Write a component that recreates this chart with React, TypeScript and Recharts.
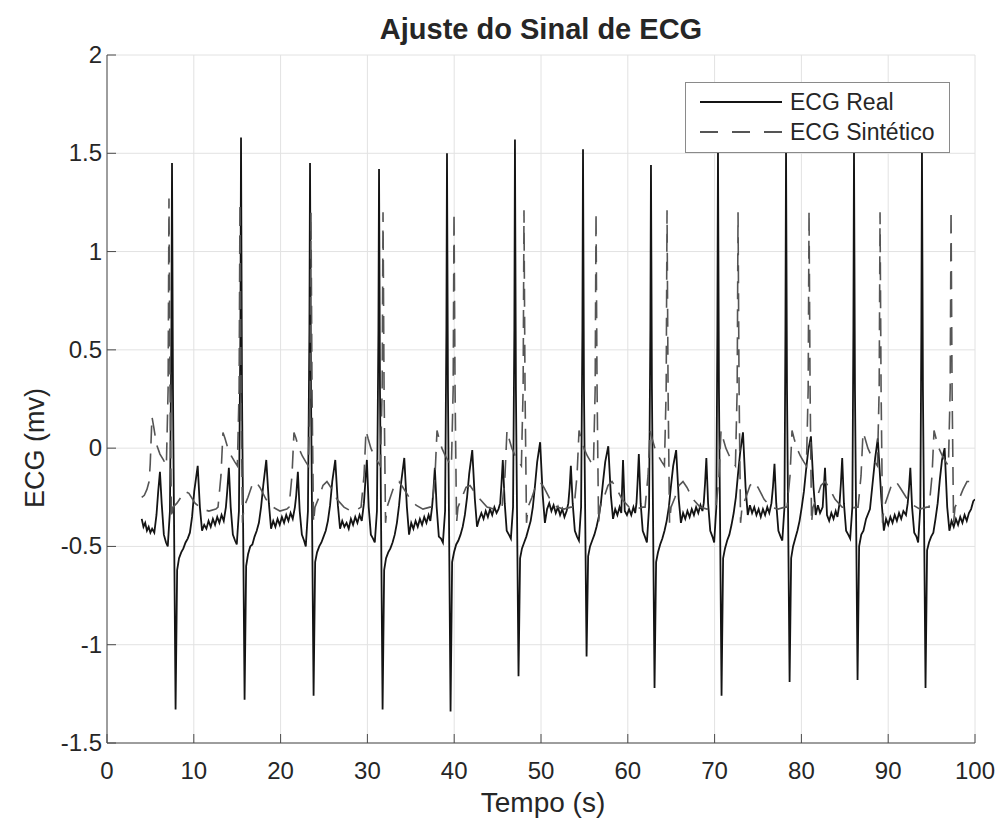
import { LineChart, Line, XAxis, YAxis, CartesianGrid, Legend } from 'recharts';

const W = 1000;
const H = 821;
const FONT = '"Liberation Sans", Arial, Helvetica, sans-serif';
const INK = '#262626';
const AXIS = '#4a4a4a';
const GRID = '#e2e2e2';
const REAL_COLOR = '#141414';
const SYNTH_COLOR = '#555555';
const DASH = '18 10';

const chartTitle = 'Ajuste do Sinal de ECG';
const xLabel = 'Tempo (s)';
const yLabel = 'ECG (mv)';
const seriesNames = ['ECG Real', 'ECG Sintético'];
const xTicks = [0, 10, 20, 30, 40, 50, 60, 70, 80, 90, 100];
const yTicks = [-1.5, -1, -0.5, 0, 0.5, 1, 1.5, 2];

// measured ECG, one array per beat: [time (s), mV]
const realBeat1 = [[4.0,-0.36],[4.2,-0.40],[4.4,-0.38],[4.6,-0.42],[4.8,-0.40],[5.0,-0.43],[5.2,-0.41],[5.45,-0.43],[5.7,-0.34],[5.9,-0.22],[6.1,-0.12],[6.3,-0.28],[6.55,-0.44],[6.8,-0.48],[7.0,-0.50],[7.25,-0.32],[7.42,0.6],[7.49,1.45],[7.6,0.3],[7.9,-1.33],[8.08,-0.62],[8.3,-0.56],[8.55,-0.53],[8.8,-0.51],[9.05,-0.48],[9.3,-0.46],[9.55,-0.43],[9.8,-0.35],[10.05,-0.22],[10.45,-0.09],[10.7,-0.30],[10.95,-0.42],[11.2,-0.39],[11.45,-0.41],[11.7,-0.37],[11.95,-0.40],[12.2,-0.36],[12.45,-0.39],[12.7,-0.35],[12.95,-0.38],[13.2,-0.34],[13.45,-0.37]];
const realBeat2 = [[13.7,-0.30],[13.85,-0.22],[14.04,-0.10],[14.25,-0.30],[14.5,-0.44],[14.75,-0.47],[14.95,-0.49],[15.2,-0.32],[15.37,0.6],[15.44,1.58],[15.55,0.3],[15.85,-1.28],[16.03,-0.60],[16.25,-0.54],[16.5,-0.50],[16.75,-0.49],[17.0,-0.45],[17.25,-0.42],[17.5,-0.38],[17.75,-0.30],[18.0,-0.19],[18.35,-0.06],[18.65,-0.28],[18.9,-0.41],[19.15,-0.37],[19.4,-0.40],[19.65,-0.36],[19.9,-0.39],[20.15,-0.35],[20.4,-0.38],[20.65,-0.34],[20.9,-0.37],[21.15,-0.33],[21.4,-0.36]];
const realBeat3 = [[21.65,-0.30],[21.8,-0.24],[21.99,-0.12],[22.2,-0.32],[22.45,-0.44],[22.7,-0.47],[22.9,-0.50],[23.15,-0.32],[23.32,0.6],[23.39,1.45],[23.5,0.3],[23.8,-1.26],[23.98,-0.58],[24.2,-0.53],[24.45,-0.50],[24.7,-0.48],[24.95,-0.45],[25.2,-0.42],[25.45,-0.37],[25.7,-0.29],[25.95,-0.17],[26.3,-0.06],[26.6,-0.29],[26.85,-0.41],[27.1,-0.37],[27.35,-0.40],[27.6,-0.38],[27.85,-0.41],[28.1,-0.36],[28.35,-0.39],[28.6,-0.35],[28.85,-0.38],[29.1,-0.34],[29.35,-0.37]];
const realBeat4 = [[29.6,-0.28],[29.75,-0.18],[29.94,-0.06],[30.15,-0.30],[30.4,-0.44],[30.65,-0.46],[30.85,-0.48],[31.1,-0.32],[31.27,0.6],[31.34,1.42],[31.45,0.3],[31.75,-1.33],[31.93,-0.62],[32.15,-0.56],[32.4,-0.53],[32.65,-0.51],[32.9,-0.48],[33.15,-0.44],[33.4,-0.38],[33.65,-0.29],[33.9,-0.17],[34.25,-0.05],[34.55,-0.30],[34.8,-0.44],[35.05,-0.38],[35.3,-0.41],[35.55,-0.37],[35.8,-0.40],[36.05,-0.36],[36.3,-0.39],[36.55,-0.35],[36.8,-0.38],[37.05,-0.34],[37.25,-0.37]];
const realBeat5 = [[37.45,-0.30],[37.6,-0.22],[37.77,-0.10],[37.98,-0.30],[38.23,-0.45],[38.48,-0.46],[38.7,-0.48],[38.95,-0.32],[39.1,0.6],[39.17,1.50],[39.28,0.3],[39.58,-1.34],[39.76,-0.58],[39.98,-0.53],[40.23,-0.49],[40.48,-0.47],[40.73,-0.44],[40.98,-0.40],[41.23,-0.34],[41.48,-0.25],[41.73,-0.13],[42.08,-0.01],[42.38,-0.26],[42.63,-0.40],[42.88,-0.36],[43.13,-0.33],[43.38,-0.36],[43.63,-0.32],[43.88,-0.35],[44.13,-0.31],[44.38,-0.34],[44.63,-0.30],[44.88,-0.33],[45.1,-0.31]];
const realBeat6 = [[45.3,-0.28],[45.45,-0.18],[45.6,-0.06],[45.82,-0.28],[46.05,-0.42],[46.3,-0.44],[46.53,-0.46],[46.78,-0.30],[46.93,0.6],[47.0,1.57],[47.11,0.3],[47.41,-1.16],[47.59,-0.56],[47.81,-0.51],[48.06,-0.48],[48.31,-0.45],[48.56,-0.41],[48.81,-0.37],[49.06,-0.30],[49.31,-0.19],[49.56,-0.07],[49.9,0.03],[50.2,-0.24],[50.45,-0.38],[50.7,-0.31],[50.95,-0.28],[51.2,-0.32],[51.45,-0.29],[51.7,-0.33],[51.95,-0.30],[52.2,-0.34],[52.45,-0.31],[52.7,-0.35],[52.95,-0.32]];
const realBeat7 = [[53.15,-0.28],[53.3,-0.20],[53.44,-0.09],[53.65,-0.28],[53.9,-0.42],[54.15,-0.45],[54.37,-0.47],[54.62,-0.30],[54.77,0.6],[54.84,1.52],[54.95,0.3],[55.25,-1.06],[55.43,-0.55],[55.65,-0.50],[55.9,-0.47],[56.15,-0.44],[56.4,-0.40],[56.65,-0.35],[56.9,-0.28],[57.15,-0.17],[57.4,-0.07],[57.75,0.01],[58.05,-0.24],[58.3,-0.36],[58.55,-0.31],[58.8,-0.34],[59.05,-0.30],[59.25,-0.33],[59.45,-0.06],[59.65,-0.32],[59.9,-0.34],[60.15,-0.31],[60.4,-0.34],[60.65,-0.30],[60.85,-0.33]];
const realBeat8 = [[61.0,-0.28],[61.12,-0.18],[61.27,-0.03],[61.48,-0.28],[61.72,-0.42],[61.97,-0.45],[62.2,-0.48],[62.45,-0.30],[62.6,0.6],[62.67,1.44],[62.78,0.3],[63.08,-1.22],[63.26,-0.58],[63.48,-0.53],[63.73,-0.49],[63.98,-0.46],[64.23,-0.42],[64.48,-0.37],[64.73,-0.30],[64.98,-0.19],[65.23,-0.09],[65.57,-0.01],[65.87,-0.26],[66.12,-0.38],[66.37,-0.33],[66.62,-0.36],[66.87,-0.32],[67.12,-0.35],[67.37,-0.31],[67.62,-0.34],[67.87,-0.30],[68.12,-0.33],[68.37,-0.29],[68.6,-0.32]];
const realBeat9 = [[68.75,-0.28],[68.9,-0.18],[69.05,-0.05],[69.25,-0.28],[69.5,-0.42],[69.75,-0.45],[69.95,-0.48],[70.2,-0.30],[70.32,0.6],[70.39,1.53],[70.5,0.3],[70.8,-1.26],[70.98,-0.56],[71.2,-0.51],[71.45,-0.47],[71.7,-0.44],[71.95,-0.39],[72.2,-0.33],[72.45,-0.25],[72.7,-0.13],[72.95,-0.02],[73.27,0.08],[73.57,-0.20],[73.82,-0.34],[74.07,-0.29],[74.32,-0.33],[74.57,-0.30],[74.82,-0.34],[75.07,-0.31],[75.32,-0.35],[75.57,-0.31],[75.82,-0.34],[76.07,-0.30],[76.3,-0.33]];
const realBeat10 = [[76.55,-0.28],[76.72,-0.20],[76.9,-0.08],[77.1,-0.28],[77.35,-0.42],[77.6,-0.45],[77.8,-0.47],[78.05,-0.30],[78.16,0.6],[78.23,1.53],[78.34,0.3],[78.64,-1.19],[78.82,-0.56],[79.04,-0.50],[79.29,-0.46],[79.54,-0.42],[79.79,-0.37],[80.04,-0.30],[80.29,-0.22],[80.54,-0.11],[80.79,-0.01],[81.1,0.06],[81.4,-0.20],[81.65,-0.34],[81.9,-0.29],[82.15,-0.33],[82.45,-0.30],[82.72,-0.10],[82.95,-0.34],[83.2,-0.37],[83.45,-0.33],[83.7,-0.36],[83.95,-0.32],[84.15,-0.35]];
const realBeat11 = [[84.4,-0.28],[84.55,-0.18],[84.7,-0.05],[84.9,-0.28],[85.15,-0.42],[85.4,-0.44],[85.62,-0.46],[85.87,-0.30],[85.99,0.6],[86.06,1.53],[86.17,0.3],[86.47,-1.18],[86.65,-0.50],[86.9,-0.44],[87.15,-0.42],[87.45,-0.36],[87.9,-0.31],[88.2,-0.18],[88.5,-0.05],[88.8,0.05],[89.2,-0.25],[89.5,-0.42],[89.75,-0.36],[90.0,-0.39],[90.25,-0.35],[90.5,-0.38],[90.75,-0.34],[91.0,-0.37],[91.25,-0.33],[91.5,-0.36],[91.75,-0.32],[92.05,-0.34]];
const realBeat12 = [[92.25,-0.28],[92.4,-0.20],[92.55,-0.10],[92.75,-0.30],[93.0,-0.43],[93.25,-0.45],[93.45,-0.48],[93.7,-0.30],[93.82,0.6],[93.89,1.53],[94.0,0.3],[94.3,-1.22],[94.48,-0.52],[94.7,-0.48],[94.95,-0.45],[95.2,-0.43],[95.45,-0.36],[95.7,-0.28],[95.95,-0.16],[96.2,-0.06],[96.5,0.0],[96.8,-0.30],[97.05,-0.42],[97.3,-0.37],[97.55,-0.40],[97.8,-0.36],[98.05,-0.39],[98.3,-0.35],[98.55,-0.38],[98.8,-0.34],[99.05,-0.37],[99.3,-0.33],[99.55,-0.31],[99.8,-0.27],[100,-0.26]];

// synthetic model output, one array per beat
const synthBeat1 = [[4.0,-0.25],[4.3,-0.24],[4.6,-0.21],[4.85,-0.17],[4.98,-0.08],[5.18,0.16],[5.41,0.10],[5.7,0.02],[6.1,-0.03],[6.5,-0.06],[6.84,-0.09],[7.04,0.3],[7.14,1.27],[7.26,0.3],[7.43,-0.36],[7.6,-0.30],[8.06,-0.28],[8.52,-0.25],[8.98,-0.22],[9.44,-0.23],[10.14,-0.28],[10.94,-0.31],[11.74,-0.32],[12.54,-0.31]];
const synthBeat2 = [[12.79,-0.30],[13.13,-0.14],[13.36,0.08],[13.59,0.05],[13.92,0.0],[14.32,-0.04],[14.72,-0.07],[15.02,-0.09],[15.22,0.3],[15.32,1.25],[15.44,0.3],[15.61,-0.38],[15.78,-0.30],[16.24,-0.25],[16.7,-0.19],[17.16,-0.17],[17.62,-0.20],[18.32,-0.26],[19.12,-0.30],[19.92,-0.32],[20.72,-0.31]];
const synthBeat3 = [[20.97,-0.30],[21.31,-0.14],[21.54,0.08],[21.77,0.05],[22.1,0.0],[22.5,-0.04],[22.9,-0.07],[23.2,-0.09],[23.4,0.3],[23.5,1.2],[23.62,0.3],[23.79,-0.38],[23.96,-0.30],[24.42,-0.25],[24.88,-0.19],[25.34,-0.17],[25.8,-0.20],[26.5,-0.26],[27.3,-0.30],[28.1,-0.32],[28.9,-0.31]];
const synthBeat4 = [[29.27,-0.30],[29.61,-0.14],[29.84,0.09],[30.07,0.05],[30.4,0.0],[30.8,-0.04],[31.2,-0.07],[31.5,-0.09],[31.7,0.3],[31.8,1.2],[31.92,0.3],[32.09,-0.38],[32.26,-0.30],[32.72,-0.24],[33.18,-0.18],[33.64,-0.17],[34.1,-0.20],[34.8,-0.25],[35.6,-0.29],[36.4,-0.31],[37.2,-0.30]];
const synthBeat5 = [[37.45,-0.30],[37.79,-0.14],[38.02,0.09],[38.25,0.05],[38.58,0.0],[38.98,-0.04],[39.38,-0.07],[39.68,-0.09],[39.88,0.3],[39.98,1.2],[40.1,0.3],[40.27,-0.38],[40.44,-0.30],[40.9,-0.25],[41.36,-0.20],[41.82,-0.19],[42.28,-0.22],[42.98,-0.26],[43.78,-0.30],[44.58,-0.31],[45.38,-0.30]];
const synthBeat6 = [[45.51,-0.30],[45.85,-0.14],[46.08,0.09],[46.31,0.05],[46.64,0.0],[47.04,-0.04],[47.44,-0.07],[47.74,-0.09],[47.94,0.3],[48.04,1.21],[48.16,0.3],[48.33,-0.38],[48.5,-0.30],[48.96,-0.25],[49.42,-0.19],[49.88,-0.17],[50.34,-0.20],[51.04,-0.26],[51.84,-0.30],[52.64,-0.31],[53.44,-0.30]];
const synthBeat7 = [[53.81,-0.30],[54.15,-0.14],[54.38,0.09],[54.61,0.05],[54.94,0.0],[55.34,-0.04],[55.74,-0.07],[56.04,-0.09],[56.24,0.3],[56.34,1.2],[56.46,0.3],[56.63,-0.38],[56.8,-0.30],[57.26,-0.25],[57.72,-0.19],[58.18,-0.17],[58.64,-0.20],[59.34,-0.26],[60.14,-0.30],[60.94,-0.31],[61.74,-0.30]];
const synthBeat8 = [[61.99,-0.30],[62.33,-0.14],[62.56,0.09],[62.79,0.05],[63.12,0.0],[63.52,-0.04],[63.92,-0.07],[64.22,-0.09],[64.42,0.3],[64.52,1.21],[64.64,0.3],[64.81,-0.38],[64.98,-0.30],[65.44,-0.25],[65.9,-0.19],[66.36,-0.17],[66.82,-0.20],[67.52,-0.26],[68.32,-0.30],[69.12,-0.31],[69.92,-0.30]];
const synthBeat9 = [[70.17,-0.30],[70.51,-0.14],[70.74,0.09],[70.97,0.05],[71.3,0.0],[71.7,-0.04],[72.1,-0.07],[72.4,-0.09],[72.6,0.3],[72.7,1.2],[72.82,0.3],[72.99,-0.38],[73.16,-0.30],[73.62,-0.25],[74.08,-0.19],[74.54,-0.17],[75.0,-0.20],[75.7,-0.26],[76.5,-0.30],[77.3,-0.31],[78.1,-0.30]];
const synthBeat10 = [[78.35,-0.30],[78.69,-0.14],[78.92,0.09],[79.15,0.05],[79.48,0.0],[79.88,-0.04],[80.28,-0.07],[80.58,-0.09],[80.78,0.3],[80.88,1.21],[81.0,0.3],[81.17,-0.38],[81.34,-0.30],[81.8,-0.25],[82.26,-0.19],[82.72,-0.17],[83.18,-0.20],[83.88,-0.26],[84.68,-0.30],[85.48,-0.31],[86.28,-0.30]];
const synthBeat11 = [[86.53,-0.30],[86.87,-0.14],[87.1,0.08],[87.33,0.05],[87.66,0.0],[88.06,-0.04],[88.46,-0.07],[88.76,-0.09],[88.96,0.3],[89.06,1.2],[89.18,0.3],[89.35,-0.38],[89.52,-0.30],[89.98,-0.24],[90.44,-0.18],[90.9,-0.17],[91.36,-0.20],[92.06,-0.25],[92.86,-0.29],[93.66,-0.31],[94.46,-0.30]];
const synthBeat12 = [[94.71,-0.30],[95.05,-0.14],[95.28,0.09],[95.51,0.05],[95.84,0.0],[96.24,-0.04],[96.64,-0.07],[96.94,-0.09],[97.14,0.3],[97.24,1.21],[97.36,0.3],[97.53,-0.38],[97.7,-0.30],[98.16,-0.26],[98.62,-0.21],[99.08,-0.17],[99.54,-0.17],[100,-0.19]];

const toPoints = (beats: number[][][]) => beats.flat().map(([t, v]) => ({ t, v }));

const realData = toPoints([realBeat1, realBeat2, realBeat3, realBeat4, realBeat5, realBeat6, realBeat7, realBeat8, realBeat9, realBeat10, realBeat11, realBeat12]);
const synthData = toPoints([synthBeat1, synthBeat2, synthBeat3, synthBeat4, synthBeat5, synthBeat6, synthBeat7, synthBeat8, synthBeat9, synthBeat10, synthBeat11, synthBeat12]);

const TICK_LEN = 9;
const TICK_FONT_SIZE = 24;

// tickSize/tickMargin are 0, so x/y handed to these is the axis line itself
function BottomTick({ x, y, payload }: any) {
  return (
    <g>
      <line x1={x} x2={x} y1={y} y2={y - TICK_LEN} stroke={AXIS} />
      <text x={x} y={y + 36} textAnchor="middle" fill={INK} fontSize={TICK_FONT_SIZE} fontFamily={FONT}>
        {payload.value}
      </text>
    </g>
  );
}

function LeftTick({ x, y, payload }: any) {
  return (
    <g>
      <line x1={x} x2={x + TICK_LEN} y1={y} y2={y} stroke={AXIS} />
      <text x={x - 5} y={y + 8} textAnchor="end" fill={INK} fontSize={TICK_FONT_SIZE} fontFamily={FONT}>
        {payload.value}
      </text>
    </g>
  );
}

function RightTick({ x, y }: any) {
  return <line x1={x} x2={x - TICK_LEN} y1={y} y2={y} stroke={AXIS} />;
}

function TopTick({ x, y }: any) {
  return <line x1={x} x2={x} y1={y} y2={y + TICK_LEN} stroke={AXIS} />;
}

function LegendBox() {
  return (
    <div style={{ width: 265, height: 71, boxSizing: 'border-box', border: '1.5px solid #8a8a8a', background: '#fff' }}>
      <svg width={262} height={68} style={{ display: 'block' }}>
        <line x1={14} x2={96} y1={19} y2={19} stroke={REAL_COLOR} strokeWidth={1.8} />
        <text x={104} y={27} fill={INK} fontSize={23} fontFamily={FONT}>{seriesNames[0]}</text>
        <line x1={14} x2={96} y1={49} y2={49} stroke={SYNTH_COLOR} strokeWidth={1.8} strokeDasharray="18 14" />
        <text x={104} y={57} fill={INK} fontSize={23} fontFamily={FONT}>{seriesNames[1]}</text>
      </svg>
    </div>
  );
}

export default function App() {
  return (
    <div style={{ position: 'absolute', left: 0, top: 0, width: W, height: H, background: '#fff' }}>
      <LineChart width={W} height={H} margin={{ top: 55, right: 25, bottom: 0, left: 0 }}>
        <CartesianGrid stroke={GRID} strokeWidth={1} />
        <XAxis
          dataKey="t"
          type="number"
          domain={[0, 100]}
          ticks={xTicks}
          interval={0}
          allowDataOverflow
          height={78}
          tickSize={0}
          tickMargin={0}
          axisLine={{ stroke: AXIS }}
          tickLine={false}
          tick={<BottomTick />}
        />
        <XAxis
          xAxisId="top"
          orientation="top"
          type="number"
          domain={[0, 100]}
          ticks={xTicks}
          interval={0}
          height={0}
          tickSize={0}
          tickMargin={0}
          axisLine={{ stroke: AXIS }}
          tickLine={false}
          tick={<TopTick />}
        />
        <YAxis
          type="number"
          domain={[-1.5, 2]}
          ticks={yTicks}
          interval={0}
          allowDataOverflow
          width={107}
          tickSize={0}
          tickMargin={0}
          axisLine={{ stroke: AXIS }}
          tickLine={false}
          tick={<LeftTick />}
        />
        <YAxis
          yAxisId="right"
          orientation="right"
          type="number"
          domain={[-1.5, 2]}
          ticks={yTicks}
          interval={0}
          width={0}
          tickSize={0}
          tickMargin={0}
          axisLine={{ stroke: AXIS }}
          tickLine={false}
          tick={<RightTick />}
        />
        <Line
          data={realData}
          dataKey="v"
          name={seriesNames[0]}
          type="linear"
          stroke={REAL_COLOR}
          strokeWidth={1.8}
          dot={false}
          activeDot={false}
          isAnimationActive={false}
        />
        <Line
          data={synthData}
          dataKey="v"
          name={seriesNames[1]}
          type="linear"
          stroke={SYNTH_COLOR}
          strokeWidth={1.6}
          strokeDasharray={DASH}
          dot={false}
          activeDot={false}
          isAnimationActive={false}
        />
        <Legend
          layout="horizontal"
          verticalAlign="middle"
          align="center"
          wrapperStyle={{ left: 685, top: 82, width: 265, height: 71 }}
          content={() => <LegendBox />}
        />
      </LineChart>
      <svg width={W} height={H} style={{ position: 'absolute', left: 0, top: 0, pointerEvents: 'none' }}>
        <text x={541} y={39} textAnchor="middle" fontWeight="bold" fontSize={29} fill={INK} fontFamily={FONT}>
          {chartTitle}
        </text>
        <text x={543} y={812} textAnchor="middle" fontSize={28} fill={INK} fontFamily={FONT}>
          {xLabel}
        </text>
        <text
          x={44}
          y={448}
          textAnchor="middle"
          fontSize={27}
          fill={INK}
          fontFamily={FONT}
          transform="rotate(-90 44 448)"
        >
          {yLabel}
        </text>
      </svg>
    </div>
  );
}
